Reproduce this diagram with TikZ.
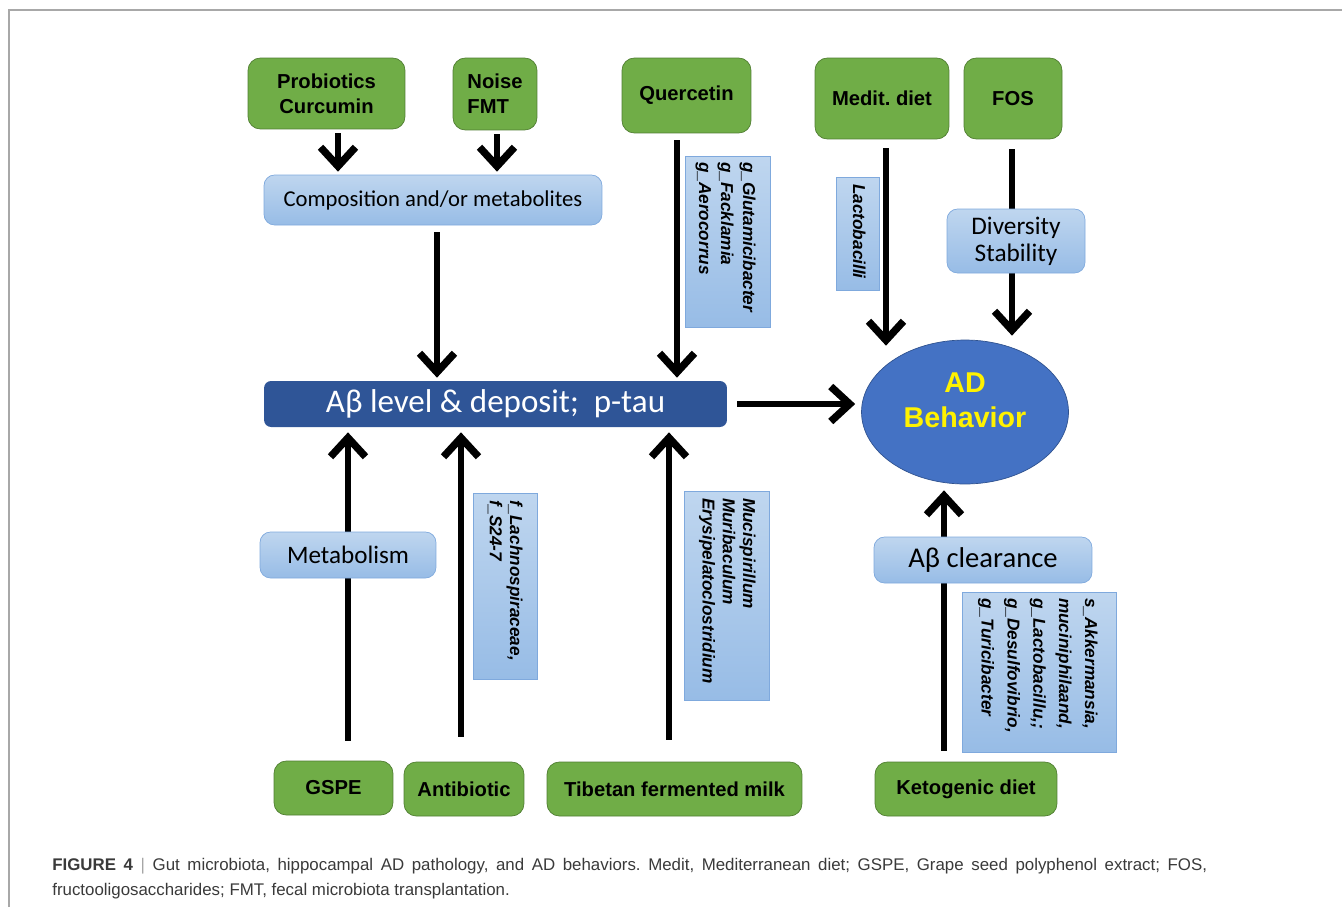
\documentclass[tikz,border=0pt]{standalone}
\usepackage{fontspec}
\setmainfont{Liberation Sans}
\newfontfamily\calibfont{Carlito}
\usetikzlibrary{arrows.meta,positioning,calc,shapes.geometric,backgrounds}
\definecolor{leafgreen}{HTML}{70AD47}
\definecolor{leafedge}{HTML}{507E32}
\definecolor{paletop}{HTML}{BFD6EF}
\definecolor{palebot}{HTML}{97BCE6}
\definecolor{paleedge}{HTML}{7FA9DD}
\definecolor{bardeep}{HTML}{2F5597}
\definecolor{ovalblue}{HTML}{4472C4}
\definecolor{ovaledge}{HTML}{2F528F}
\definecolor{capgray}{HTML}{3A3A3A}
\definecolor{framegray}{HTML}{A8A8A8}
\frenchspacing

\begin{document}
\begin{tikzpicture}[
    x=0.02cm, y=-0.02cm,
    >={Straight Barb[length=3.8mm, width=7mm, line width=4.2pt]},
    arr/.style={->, line width=3pt},
    treat/.style={draw=leafedge, fill=leafgreen, rounded corners=7pt, align=center, font=\fontsize{11.5}{14.2}\selectfont\bfseries},
    effect/.style={draw=paleedge, top color=paletop, bottom color=palebot, rounded corners=6pt, align=center},
    taxon/.style={draw=paleedge, top color=paletop, bottom color=palebot},
    taxtext/.style={rotate=-90, anchor=north west, align=left, inner sep=2pt, font=\fontsize{9.8}{12.5}\selectfont\bfseries\itshape},
]
    \useasboundingbox (0,0) rectangle (1342,907);

    % --- frame ---
    \draw[framegray, line width=1pt] (9,907) -- (9,10) -- (1342,10);

    % --- treatments, top row ---
    \node[treat, minimum width=3.14cm, minimum height=1.42cm] (probio) at (326.5,93.5) {Probiotics\\Curcumin};
    \node[treat, minimum width=1.68cm, minimum height=1.44cm, align=left] (noise) at (495,94) {Noise\\FMT};
    \node[treat, minimum width=2.58cm, minimum height=1.5cm] (querc) at (686.5,95.5) {Quercetin};
    \node[treat, minimum width=2.68cm, minimum height=1.62cm] (medit) at (882,98.5) {Medit. diet};
    \node[treat, minimum width=1.96cm, minimum height=1.62cm] (fos) at (1013,98.5) {FOS};

    % --- treatments, bottom row ---
    \node[treat, minimum width=2.38cm, minimum height=1.08cm] (gspe) at (333.5,788) {GSPE};
    \node[treat, minimum width=2.4cm, minimum height=1.08cm] (antib) at (464,789) {Antibiotic};
    \node[treat, minimum width=5.1cm, minimum height=1.08cm] (tibet) at (674.5,789) {Tibetan fermented milk};
    \node[treat, minimum width=3.64cm, minimum height=1.08cm] (keto) at (966,789) {Ketogenic diet};

    % --- mediators ---
    \node[effect, minimum width=6.76cm, minimum height=1cm, font=\calibfont\fontsize{12.9}{15}\selectfont] (compo) at (433,200) {Composition and/or metabolites};
    \node[effect, minimum width=2.76cm, minimum height=1.28cm, font=\calibfont\fontsize{14.4}{15.3}\selectfont] (divers) at (1016,241) {Diversity\\Stability};
    \node[effect, minimum width=3.52cm, minimum height=0.92cm, font=\calibfont\fontsize{14.3}{16}\selectfont] (metab) at (348,555) {Metabolism};
    \node[effect, minimum width=4.36cm, minimum height=0.92cm, font=\calibfont\fontsize{16.3}{18}\selectfont] (clear) at (983,560) {Aβ clearance};

    % --- pathology and behaviour ---
    \node[fill=bardeep, rounded corners=4pt, minimum width=9.26cm, minimum height=0.92cm, text=white, font=\calibfont\fontsize{18.8}{20}\selectfont] (amyloid) at (495.5,404) {Aβ level \& deposit;\ \ p-tau};
    \node[ellipse, fill=ovalblue, draw=ovaledge, minimum width=4.14cm, minimum height=2.88cm, text=yellow, align=center, text depth=0.46cm, font=\fontsize{16.3}{19.8}\selectfont\bfseries] (behav) at (965,412) {AD\\Behavior};

    % --- taxa boxes ---
    \node[taxon, minimum width=1.7cm, minimum height=3.42cm] (glut) at (727.5,241.5) {};
    \node[taxtext] (glutnames) at ([xshift=-0.22cm,yshift=-0.05cm]glut.north east) {g\_Glutamicibacter\\g\_Facklamia\\g\_Aerocorrus};
    \node[taxon, minimum width=0.86cm, minimum height=2.26cm] (lacto) at (857.5,233.5) {};
    \node[taxtext] (lactonames) at ([xshift=-0.2cm,yshift=-0.07cm]lacto.north east) {Lactobacilli};
    \node[taxon, minimum width=1.28cm, minimum height=3.72cm] (lachno) at (505,586) {};
    \node[taxtext, font=\fontsize{9.8}{11.5}\selectfont\bfseries\itshape] (lachnames) at ([xshift=-0.22cm,yshift=-0.07cm]lachno.north east) {f\_Lachnospiraceae,\\f\_S24-7};
    \node[taxon, minimum width=1.7cm, minimum height=4.18cm] (muci) at (726.5,595.5) {};
    \node[taxtext, font=\fontsize{9.8}{11.5}\selectfont\bfseries\itshape] (mucinames) at ([xshift=-0.2cm,yshift=-0.07cm]muci.north east) {Mucispirillum\\Muribaculum\\Erysipelatoclostridium};
    \node[taxon, minimum width=3.08cm, minimum height=3.2cm] (akker) at (1039,672) {};
    \node[taxtext, font=\fontsize{9.8}{14.7}\selectfont\bfseries\itshape] (akkernames) at ([xshift=-0.3cm,yshift=-0.05cm]akker.north east) {s\_Akkermansia,\\muciniphilaand,\\g\_Lactobacillu,;\\g\_Desulfovibrio,\\g\_Turicibacter};

    % --- connectors ---
    \begin{pgfonlayer}{background}
    \draw[arr] ([xshift=0.23cm,yshift=-0.08cm]probio.south) -- ([xshift=0.23cm,yshift=0.06cm]probio.south |- compo.north);
    \draw[arr] ([xshift=0.04cm,yshift=-0.08cm]noise.south) -- ([xshift=0.04cm,yshift=0.06cm]noise.south |- compo.north);
    \draw[arr] ([xshift=0.08cm,yshift=-0.14cm]compo.south) -- ([xshift=0.08cm,yshift=0.06cm]compo.south |- amyloid.north);
    \draw[arr] ([xshift=-0.19cm,yshift=-0.14cm]querc.south) -- ([xshift=-0.19cm,yshift=0.06cm]querc.south |- amyloid.north);
    \draw[arr] ([xshift=0.08cm,yshift=-0.18cm]medit.south) -- ([xshift=0.08cm,yshift=-0.12cm]medit.south |- behav.north);
    \draw[arr] ([xshift=-0.02cm,yshift=-0.2cm]fos.south) -- ([xshift=-0.02cm,yshift=0.08cm]fos.south |- behav.north);
    \draw[arr] ([xshift=0.2cm]amyloid.east) -- ([xshift=-0.12cm]amyloid.east -| behav.west);
    \draw[arr] ([xshift=0.29cm,yshift=0.4cm]gspe.north) -- ([xshift=0.29cm,yshift=-0.1cm]gspe.north |- amyloid.south);
    \draw[arr] ([xshift=-0.06cm,yshift=0.5cm]antib.north) -- ([xshift=-0.06cm,yshift=-0.1cm]antib.north |- amyloid.south);
    \draw[arr] ([xshift=-0.11cm,yshift=0.44cm]tibet.north) -- ([xshift=-0.11cm,yshift=-0.1cm]tibet.north |- amyloid.south);
    \draw[arr] ([xshift=-0.44cm,yshift=0.22cm]keto.north) -- ([xshift=-0.44cm,yshift=-0.12cm]keto.north |- behav.south);
    \end{pgfonlayer}

    % --- caption ---
    \node[anchor=north west, align=left, inner sep=0pt, text=capgray, font=\fontsize{9.6}{14.2}\selectfont] (caption) at (52,858)
        {\makebox[23.1cm][s]{\textbf{FIGURE 4} {\color{gray!70}|} Gut microbiota, hippocampal AD pathology, and AD behaviors. Medit, Mediterranean diet; GSPE, Grape seed polyphenol extract; FOS,}\\fructooligosaccharides; FMT, fecal microbiota transplantation.};

\end{tikzpicture}
\end{document}
